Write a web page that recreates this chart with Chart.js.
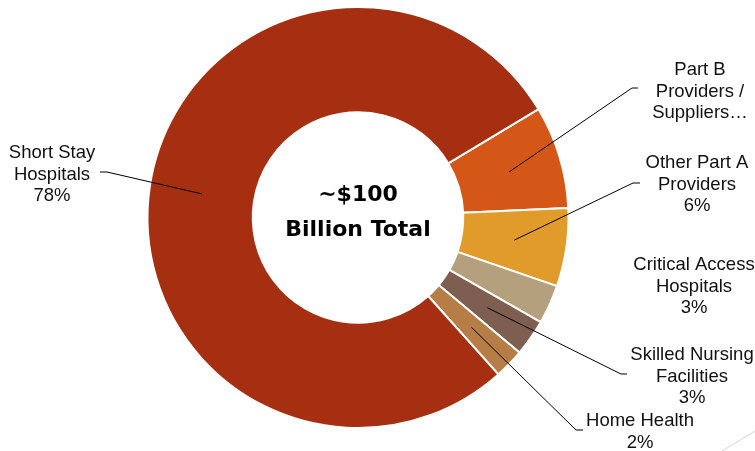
<!DOCTYPE html>
<html>
<head>
<meta charset="utf-8">
<script src="https://cdn.jsdelivr.net/npm/chart.js@4.4.0/dist/chart.umd.min.js"></script>
<style>
  html, body { margin: 0; padding: 0; background: #fff; }
  #wrap { position: relative; width: 755px; height: 451px; }
</style>
</head>
<body>
<div id="wrap"><canvas id="spendChart" width="755" height="451"></canvas></div>
<script>
// slices, clockwise from the Part B edge
const categories = ['Part B Providers / Suppliers', 'Other Part A Providers', 'Critical Access Hospitals',
                    'Skilled Nursing Facilities', 'Home Health', 'Short Stay Hospitals'];
const shares = [7.9, 6.0, 3.0, 2.8, 2.3, 78.0];
const labelLines = [
    ['Part B', 'Providers /', 'Suppliers…'],
    ['Other Part A', 'Providers', '6%'],
    ['Critical Access', 'Hospitals', '3%'],
    ['Skilled Nursing', 'Facilities', '3%'],
    ['Home Health', '2%'],
    ['Short Stay', 'Hospitals', '78%']
];
const centerText = ['~$100', 'Billion Total'];
const sliceColors = ['#D45718', '#E19B2B', '#B5A07E', '#7D5E50', '#B67D47', '#A52F10'];

// label layout: text centre x, first baseline y, leader line start + elbow (null = no line)
const labelLayout = [
    { x: 700, y: 75,  lead: [[638, 88], [632, 88]] },
    { x: 697, y: 168, lead: [[640, 183], [633, 183]] },
    { x: 694, y: 270, lead: null },
    { x: 692, y: 360, lead: [[627, 374], [621, 374]] },
    { x: 640, y: 426, lead: [[583, 430], [576, 430]] },
    { x: 52,  y: 158, lead: [[100, 172], [107, 172]] }
];

const labelPlugin = {
    id: 'labelPlugin',
    afterDatasetsDraw(chart) {
        const c = chart.ctx;
        const arcs = chart.getDatasetMeta(0).data;
        c.save();

        // leader lines
        c.strokeStyle = '#000';
        c.lineWidth = 1;
        arcs.forEach((arc, i) => {
            const L = labelLayout[i];
            if (!L.lead) return;
            const p = arc.getCenterPoint();
            c.beginPath();
            c.moveTo(L.lead[0][0], L.lead[0][1]);
            c.lineTo(L.lead[1][0], L.lead[1][1]);
            c.lineTo(p.x, p.y);
            c.stroke();
        });

        // category labels
        c.fillStyle = '#111';
        c.font = '18.5px "Liberation Sans", Arial, sans-serif';
        c.textAlign = 'center';
        c.textBaseline = 'alphabetic';
        labelLines.forEach((lines, i) => {
            const L = labelLayout[i];
            lines.forEach((t, k) => c.fillText(t, L.x, L.y + k * 21.5));
        });

        // centre text
        const cx = arcs[0].x;
        c.fillStyle = '#000';
        c.font = 'bold 22px "DejaVu Sans", sans-serif';
        c.fillText(centerText[0], cx, 201);
        c.fillText(centerText[1], cx, 236);

        // faint slide decoration, bottom right
        c.strokeStyle = '#d4d4d4';
        c.beginPath();
        c.moveTo(722, 451);
        c.lineTo(755, 431);
        c.stroke();
        c.restore();
    }
};

new Chart(document.getElementById('spendChart').getContext('2d'), {
    type: 'doughnut',
    data: {
        labels: categories,
        datasets: [{
            data: shares,
            backgroundColor: sliceColors,
            borderColor: '#fff',
            borderWidth: 2
        }]
    },
    options: {
        responsive: false,
        animation: false,
        rotation: 59,
        cutout: '50%',
        layout: { padding: { top: 6, bottom: 22, left: 0, right: 39 } },
        plugins: {
            legend: { display: false },
            tooltip: { enabled: false }
        }
    },
    plugins: [labelPlugin]
});
</script>
</body>
</html>
